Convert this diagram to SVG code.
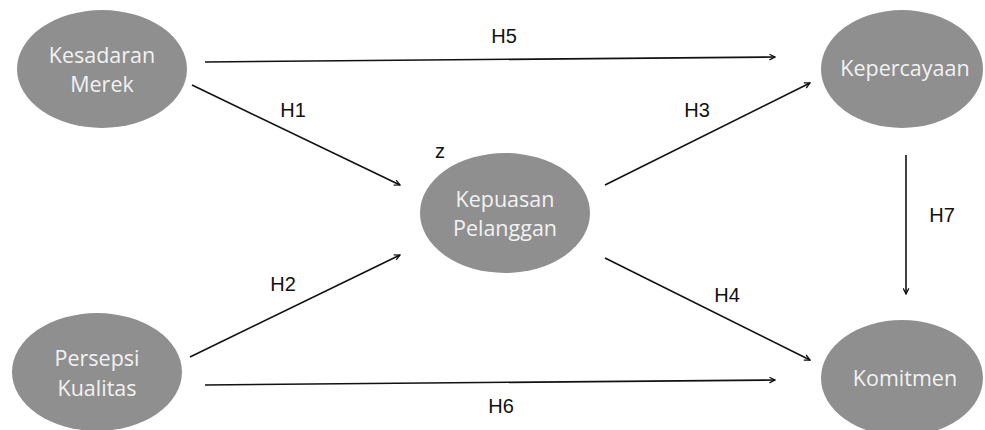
<svg xmlns="http://www.w3.org/2000/svg" width="985" height="430" viewBox="0 0 985 430">
<style>
.node{fill:#8f8f8f}
.nt{fill:#f2f2f2;font-family:"Open Sans","DejaVu Sans",sans-serif;font-size:21.5px;text-anchor:middle}
.lbl{fill:#111;font-family:"Liberation Sans","Arial",sans-serif;font-size:20px;text-anchor:middle}
.edge{stroke:#111;stroke-width:1.6;fill:none;marker-end:url(#ah)}
</style>
<defs>
<marker id="ah" viewBox="0 0 10 10" refX="9" refY="5" markerWidth="7" markerHeight="7" orient="auto" markerUnits="userSpaceOnUse">
<path d="M1,1 L9,5 L1,9" fill="none" stroke="#111" stroke-width="1.8"/>
</marker>
</defs>
<rect width="985" height="430" fill="#fff"/>
<g id="connectors">
<line class="edge" x1="205" y1="62" x2="775" y2="57"/>
<line class="edge" x1="192" y1="85" x2="400" y2="185"/>
<line class="edge" x1="605" y1="185" x2="810" y2="83"/>
<line class="edge" x1="190" y1="357" x2="400" y2="255"/>
<line class="edge" x1="605" y1="258" x2="810" y2="360"/>
<line class="edge" x1="205" y1="385" x2="775" y2="380"/>
<line class="edge" x1="906" y1="155" x2="906" y2="294"/>
<text class="lbl" x="504" y="43">H5</text>
<text class="lbl" x="293" y="117">H1</text>
<text class="lbl" x="697" y="117">H3</text>
<text class="lbl" x="283" y="291">H2</text>
<text class="lbl" x="727" y="302">H4</text>
<text class="lbl" x="501" y="413">H6</text>
<text class="lbl" x="942" y="222">H7</text>
</g>
<g id="kesadaran">
<ellipse class="node" cx="102" cy="69" rx="85" ry="59"/>
<text class="nt" x="102" y="63">Kesadaran</text>
<text class="nt" x="102" y="92">Merek</text>
</g>
<g id="kepuasan">
<ellipse class="node" cx="505" cy="213" rx="85" ry="60"/>
<text class="lbl" x="440" y="158">z</text>
<text class="nt" x="505" y="207">Kepuasan</text>
<text class="nt" x="505" y="236">Pelanggan</text>
</g>
<g id="kepercayaan">
<ellipse class="node" cx="902" cy="69" rx="81" ry="59"/>
<text class="nt" x="905" y="76">Kepercayaan</text>
</g>
<g id="persepsi">
<ellipse class="node" cx="97" cy="372" rx="85" ry="59"/>
<text class="nt" x="97" y="366">Persepsi</text>
<text class="nt" x="97" y="396">Kualitas</text>
</g>
<g id="komitmen">
<ellipse class="node" cx="902" cy="378" rx="81" ry="58"/>
<text class="nt" x="905" y="386">Komitmen</text>
</g>
</svg>
